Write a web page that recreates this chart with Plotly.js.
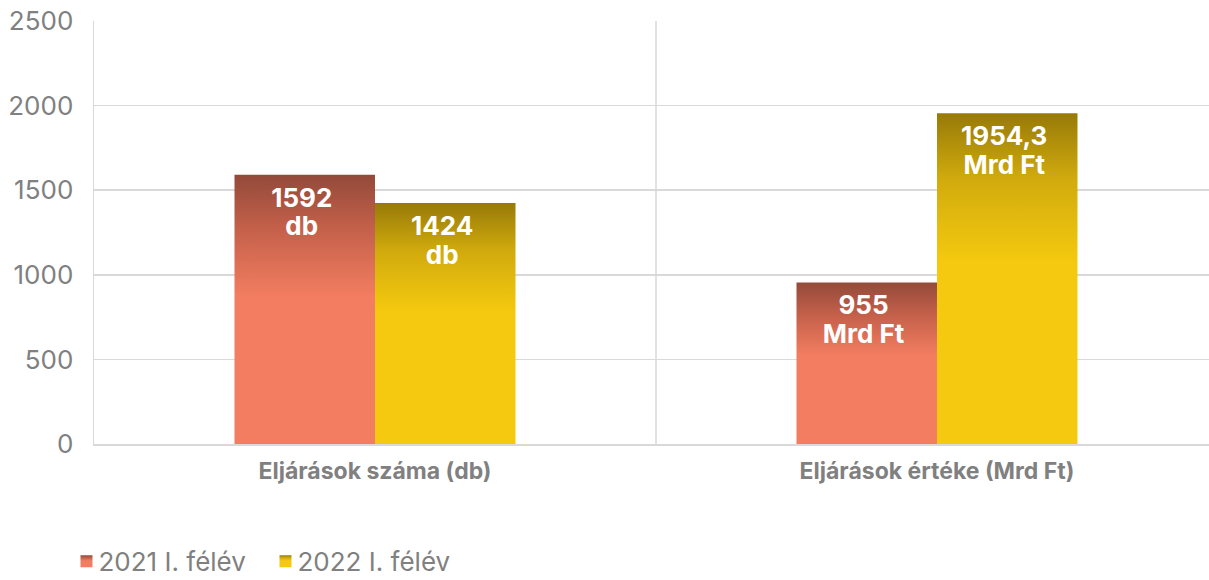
<!DOCTYPE html>
<html>
<head>
<meta charset="utf-8">
<script src="https://cdn.plot.ly/plotly-3.0.1.min.js"></script>
<style>html,body{margin:0;padding:0;background:#fff;}#chart{width:1209px;height:580px;}</style>
</head>
<body>
<div id="chart"></div>
<script>
const categories = ["Eljárások száma (db)", "Eljárások értéke (Mrd Ft)"];
const units = ["db", "Mrd Ft"];
const seriesNames = ["2021 I. félév", "2022 I. félév"];
const values2021 = [1592, 955];
const values2022 = [1424, 1954.3];
const yTicks = [0, 500, 1000, 1500, 2000, 2500];

function labels(vals) {
  return vals.map((v, i) => String(v).replace('.', ',') + '<br>' + units[i]);
}

const FONT = 'Inter, "Liberation Sans", Arial, sans-serif';
const labelFont = {family: FONT, size: 26, color: '#ffffff', weight: 'bold'};

const traces = [
  {type: 'bar', name: seriesNames[0], x: categories, y: values2021, text: labels(values2021),
   textposition: 'inside', insidetextanchor: 'end', textfont: labelFont, textangle: 0,
   marker: {color: '#f27d60'}, hoverinfo: 'none'},
  {type: 'bar', name: seriesNames[1], x: categories, y: values2022, text: labels(values2022),
   textposition: 'inside', insidetextanchor: 'end', textfont: labelFont, textangle: 0,
   marker: {color: '#f5c90f'}, hoverinfo: 'none'}
];

const layout = {
  width: 1209, height: 580,
  margin: {l: 94, r: 0, t: 21, b: 136},
  paper_bgcolor: '#ffffff', plot_bgcolor: '#ffffff',
  barmode: 'group', bargap: 0.5, bargroupgap: 0,
  font: {family: FONT, color: '#808080'},
  xaxis: {
    type: 'category', range: [-0.5, 1.484], showgrid: false,
    showline: true, linecolor: '#d9d9d9', linewidth: 2,
    ticks: '', ticklabelstandoff: 5,
    tickfont: {family: FONT, size: 23, color: '#808080', weight: 'bold'}
  },
  yaxis: {
    range: [0, 2500], tickvals: yTicks, showgrid: true, gridcolor: '#d9d9d9', gridwidth: 1.5,
    zeroline: false, showline: true, linecolor: '#d9d9d9', linewidth: 1.5,
    ticks: '', ticklabelstandoff: 14,
    tickfont: {family: FONT, size: 26, color: '#808080'}
  },
  shapes: [{type: 'line', xref: 'x', yref: 'paper', x0: 0.5, x1: 0.5, y0: 0, y1: 1,
            line: {color: '#d9d9d9', width: 1.5}}],
  showlegend: true,
  legend: {
    orientation: 'h', xref: 'container', yref: 'container',
    x: 0.055, y: 0.032, xanchor: 'left', yanchor: 'middle',
    font: {family: FONT, size: 26, color: '#808080'},
    itemwidth: 30, entrywidth: 154, traceorder: 'normal'
  }
};

Plotly.newPlot('chart', traces, layout, {staticPlot: true, displayModeBar: false}).then(function(gd) {
  const svgNS = 'http://www.w3.org/2000/svg';
  const svg = gd.querySelector('.main-svg');
  let defs = svg.querySelector('defs');
  if (!defs) { defs = document.createElementNS(svgNS, 'defs'); svg.insertBefore(defs, svg.firstChild); }
  const grads = [
    {id: 'gRed', stops: [[0, '#934a3a'], [0.2, '#c4604a'], [0.45, '#f27d60'], [1, '#f27d60']]},
    {id: 'gYel', stops: [[0, '#977a08'], [0.2, '#d1ab0d'], [0.45, '#f5c90f'], [1, '#f5c90f']]}
  ];
  grads.forEach(g => {
    const lg = document.createElementNS(svgNS, 'linearGradient');
    lg.setAttribute('id', g.id);
    lg.setAttribute('x1', '0'); lg.setAttribute('y1', '0');
    lg.setAttribute('x2', '0'); lg.setAttribute('y2', '1');
    g.stops.forEach(s => {
      const st = document.createElementNS(svgNS, 'stop');
      st.setAttribute('offset', s[0]);
      st.setAttribute('stop-color', s[1]);
      lg.appendChild(st);
    });
    defs.appendChild(lg);
  });
  const ids = ['gRed', 'gYel'];
  gd.querySelectorAll('.barlayer .trace').forEach((t, i) => {
    t.querySelectorAll('.point path').forEach(p => { p.style.fill = 'url(#' + ids[i] + ')'; });
    t.querySelectorAll('text.bartext').forEach(tx => {
      tx.querySelectorAll('tspan.line').forEach((ts, k) => { if (k > 0) ts.setAttribute('dy', '1.1em'); });
      const tr = tx.getAttribute('transform') || '';
      tx.setAttribute('transform', 'translate(-3,4) ' + tr);
    });
  });
  gd.querySelectorAll('.legend .traces').forEach((t, i) => {
    t.querySelectorAll('.legendpoints path').forEach(p => { p.style.fill = 'url(#' + ids[i] + ')'; });
    t.querySelectorAll('text.legendtext').forEach(tx => {
      const x = parseFloat(tx.getAttribute('x') || '0');
      tx.setAttribute('x', x - 8);
      tx.querySelectorAll('tspan[x]').forEach(ts => { ts.setAttribute('x', parseFloat(ts.getAttribute('x')) - 8); });
    });
  });
});
</script>
</body>
</html>
